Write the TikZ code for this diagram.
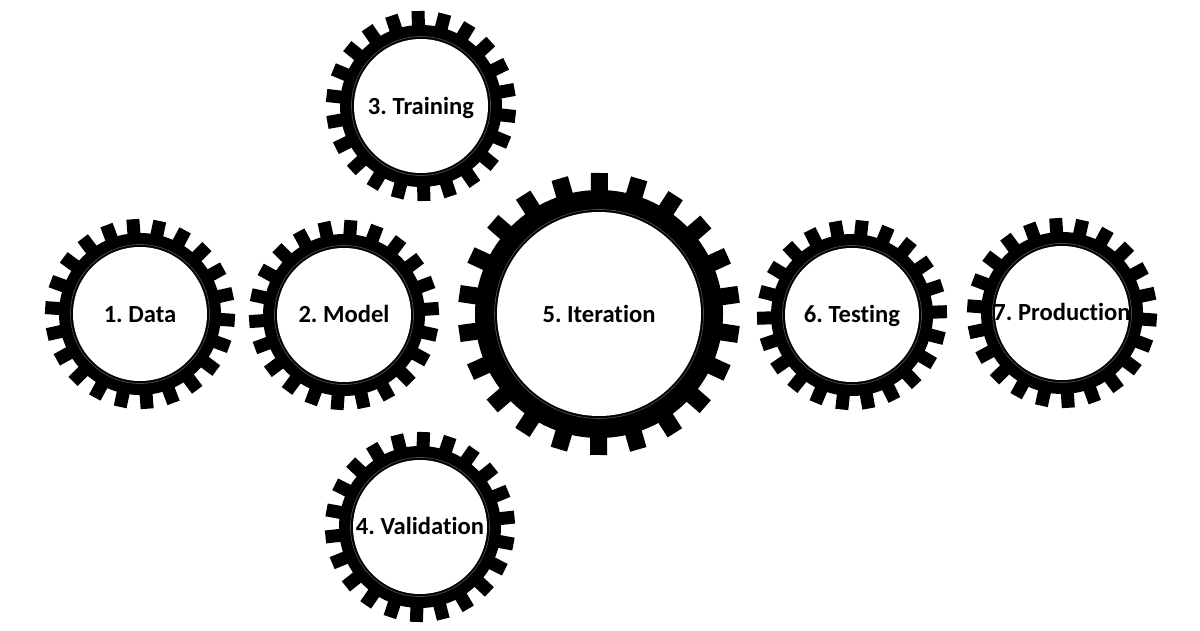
\documentclass[tikz,border=0pt]{standalone}
\usepackage{fontspec}
\setmainfont{Carlito}[Ligatures=NoCommon]
\usepackage{tikz}
\usetikzlibrary{calc}
% cog: (centre)(inner:body:tip:tooth width:turn)
\def\cog(#1)(#2:#3:#4:#5:#6){%
	\foreach \i in {1,...,22}
		\fill[shift={(#1)}, rotate=\i*360/22+#6] (#3-4, -#5/2) rectangle (#4, #5/2);
	\fill (#1) circle (#3);
	\fill[white] (#1) circle (#2);
	\draw[black!70, line width=0.5pt] (#1) circle (#2+2.5);
}
\tikzset{label/.style={font=\fontsize{17.5}{21}\selectfont\bfseries, inner sep=0pt,
		text height=11.3pt, text depth=0pt}}

\begin{document}
\frenchspacing
\begin{tikzpicture}[x=0.025cm, y=0.025cm]
			%%%%% START %%%%%
			
			\useasboundingbox[fill=white] (0, 0) rectangle (1200, 630);
			
			\cog(140, 316)(67:81:95:13:12.5)
			\node[label] (data) at (140, 315) {1. Data};
			
			\cog(344, 315)(67:81:95:13:4)
			\node[label] (model) at (344, 315) {2. Model};
			
			\cog(421, 524)(67:81:95:13:10)
			\node[label] (training) at (421, 523) {3. Training};
			
			\cog(420, 103)(67:81:95:13:6)
			\node[label] (validation) at (420, 103) {4. Validation};
			
			\cog(599, 316)(102:124:141:17:8)
			\node[label] (iteration) at (599, 315) {5. Iteration};
			
			\cog(852, 315)(67:81:95:13:2)
			\node[label] (testing) at (852, 315) {6. Testing};
			
			\cog(1062, 317)(67:81:95:13:12)
			\node[label] (production) at (1062, 317) {7. Production};
			
			%%%%% END %%%%%
\end{tikzpicture}
\end{document}
